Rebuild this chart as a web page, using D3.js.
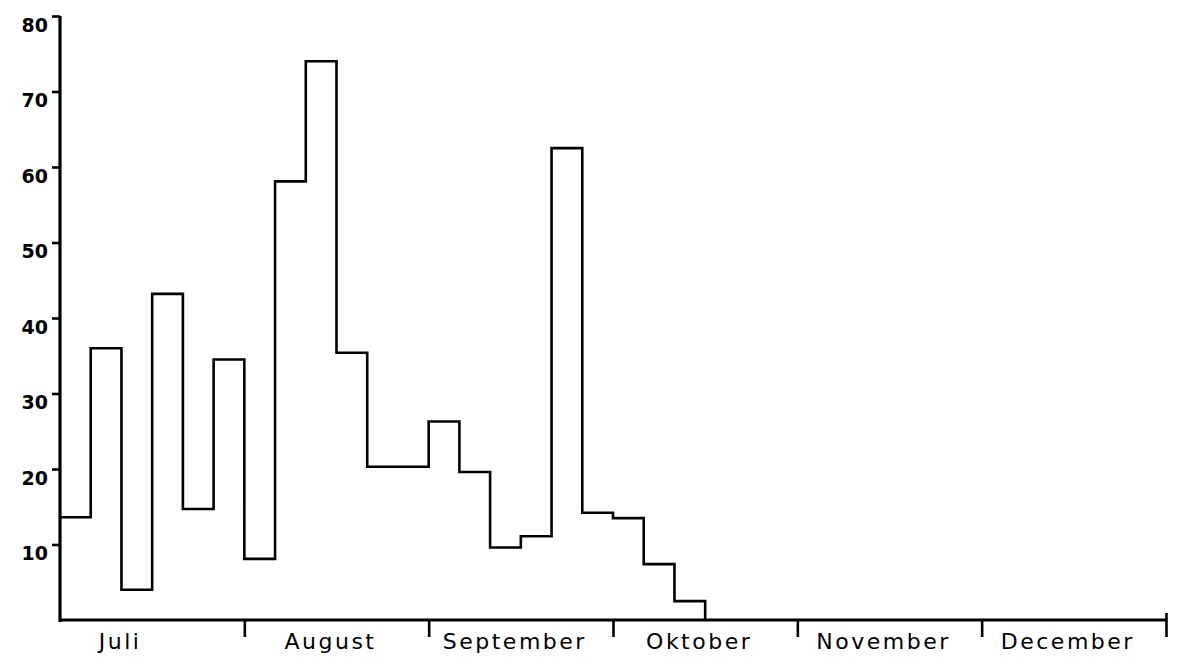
<!DOCTYPE html>
<html>
<head>
<meta charset="utf-8">
<script src="https://cdn.jsdelivr.net/npm/d3@7/dist/d3.min.js"></script>
<style>
  html, body { margin: 0; padding: 0; background: #fff; }
  svg { display: block; }
</style>
</head>
<body>
<svg id="chart" width="1179" height="657"></svg>
<script>
// Data
const months = ["Juli", "August", "September", "Oktober", "November", "December"];
const binsPerMonth = 6;
const binValues = [13.6, 36, 4, 43.2, 14.7, 34.5,
                   8.1, 58.1, 74, 35.4, 20.3, 20.3,
                   26.3, 19.6, 9.6, 11.1, 62.5, 14.2,
                   13.5, 7.4, 2.5];
const yTicks = [10, 20, 30, 40, 50, 60, 70, 80];

const svg = d3.select("#chart");
const nBins = months.length * binsPerMonth;

const x = d3.scaleLinear().domain([0, nBins]).range([60, 1166]);
const y = d3.scaleLinear().domain([0, 80]).range([620, 16]);

// Step outline
const pts = binValues.map((v, i) => [i, v]);
const last = binValues.length;
pts.push([last, binValues[last - 1]]);
pts.push([last, 0]);

const line = d3.line()
  .x(d => x(d[0]))
  .y(d => y(d[1]))
  .curve(d3.curveStepAfter);

svg.append("path")
  .datum(pts)
  .attr("d", line)
  .attr("fill", "none")
  .attr("stroke", "#000")
  .attr("stroke-width", 2.6)
  .attr("stroke-linejoin", "miter");

// Y axis
const yAxis = d3.axisLeft(y).tickValues(yTicks).tickSize(8).tickFormat(d3.format("d"));
const gy = svg.append("g").attr("transform", `translate(${x(0)},0)`).call(yAxis);
gy.select(".domain").attr("d", `M0,${y(80)}V${y(0) + 2}`).attr("stroke", "#000").attr("stroke-width", 3.2);
gy.selectAll(".tick line").attr("stroke", "#000").attr("stroke-width", 2.6);
gy.selectAll(".tick text")
  .attr("x", -12)
  .attr("dy", "0.8em")
  .attr("fill", "#000")
  .style("font-family", "'DejaVu Sans', sans-serif")
  .style("font-size", "19px")
  .style("font-weight", "bold");

// X axis
const monthTicks = d3.range(1, months.length + 1).map(i => i * binsPerMonth);
const xAxis = d3.axisBottom(x).tickValues(monthTicks).tickSize(17).tickFormat("");
const gx = svg.append("g").attr("transform", `translate(0,${y(0)})`).call(xAxis);
gx.select(".domain").attr("d", `M${x(0)},0H${x(nBins)}`).attr("stroke", "#000").attr("stroke-width", 3.2);
gx.selectAll(".tick line").attr("stroke", "#000").attr("stroke-width", 2.6)
  .attr("y1", (d, i) => i === monthTicks.length - 1 ? -7 : -1);

// Month labels
svg.append("g").selectAll("text")
  .data(months)
  .join("text")
  .attr("x", (d, i) => x(i * binsPerMonth + binsPerMonth / 2) + (i === 0 ? -32 : -6))
  .attr("y", y(0) + 29)
  .attr("text-anchor", "middle")
  .attr("fill", "#000")
  .style("font-family", "'DejaVu Sans', sans-serif")
  .style("font-size", "22px")
  .style("letter-spacing", "2.5px")
  .text(d => d);
</script>
</body>
</html>
